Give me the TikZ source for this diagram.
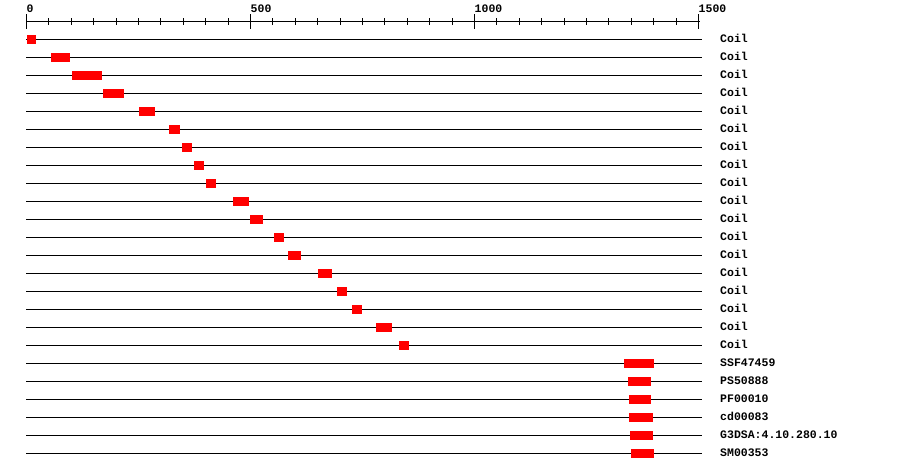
\documentclass[tikz,border=0pt]{standalone}
\usepackage{fontspec}
\setmonofont{Liberation Mono}
\usetikzlibrary{positioning}

\begin{document}
\begin{tikzpicture}[
    x=0.448pt, y=-18pt,
    track/.style={line width=1pt},
    hit/.style={fill=red, draw=none},
    lbl/.style={font=\ttfamily\bfseries\fontsize{11.5}{12}\selectfont, anchor=base west, inner sep=0pt}
  ]
  \useasboundingbox (-26.5pt,21pt) rectangle (873.5pt,-451pt);

  % scale bar
  \draw[track] (-1,0) -- (1504,0);
  \foreach \t in {0,50,...,1500}
    \draw[track] ([yshift=3pt]\t,0) -- ([yshift=-4pt]\t,0);
  \foreach \t in {0,500,1000,1500} {
    \draw[track] ([yshift=7pt]\t,0) -- ([yshift=-8pt]\t,0);
    \node[lbl, yshift=9pt] (tick\t) at (\t,0) {\t};
  }

  % one track per match
  \foreach \a/\b/\name [count=\i] in {
      1/21/Coil, 55/97/Coil, 102/169/Coil, 171/218/Coil, 251/287/Coil,
      318/343/Coil, 347/369/Coil, 374/396/Coil, 401/423/Coil, 461/497/Coil,
      499/528/Coil, 552/575/Coil, 584/613/Coil, 651/682/Coil, 693/715/Coil,
      727/749/Coil, 780/816/Coil, 831/854/Coil,
      1334/1401/SSF47459, 1343/1394/PS50888, 1345/1394/PF00010,
      1345/1399/cd00083, 1347/1399/G3DSA:4.10.280.10, 1349/1401/SM00353} {
    \draw[track] (-1,\i) -- (1508,\i);
    \fill[hit] ([yshift=4.5pt]\a,\i) rectangle ([yshift=-4.5pt]\b,\i);
    \node[lbl, yshift=-3pt] (lab\i) at (1548,\i) {\name};
  }
\end{tikzpicture}
\end{document}
